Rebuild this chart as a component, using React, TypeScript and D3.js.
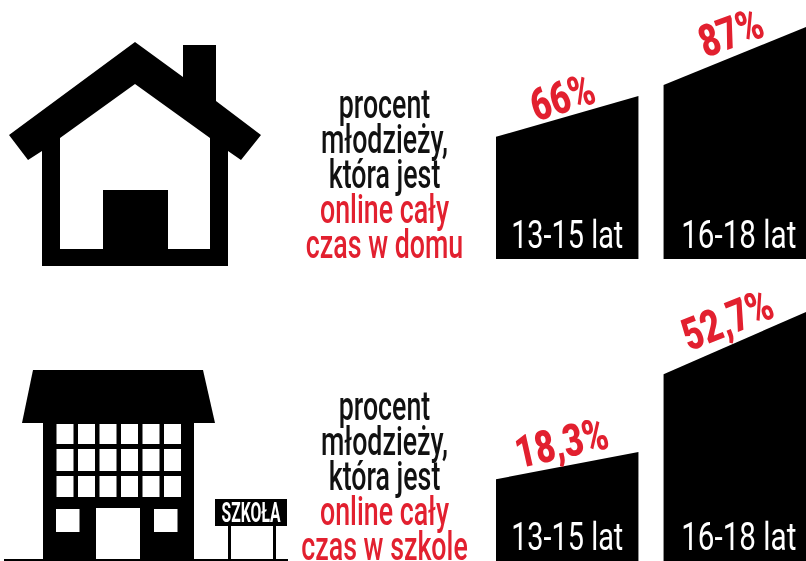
import React, { useEffect, useRef } from "react";
import * as d3 from "d3";

const ageGroups = ["13-15 lat", "16-18 lat"];
const homeValues = [66, 87];
const schoolValues = [18.3, 52.7];
const homeLabels = ["66%", "87%"];
const schoolLabels = ["18,3%", "52,7%"];
const homeText = ["procent", "młodzieży,", "która jest", "online cały", "czas w domu"];
const schoolText = ["procent", "młodzieży,", "która jest", "online cały", "czas w szkole"];
const RED = "#e2202f";
const FONT = "Roboto";

export default function App() {
  const ref = useRef<SVGSVGElement>(null);

  useEffect(() => {
    const svg = d3.select(ref.current);
    svg.selectAll("*").remove();

    const x = d3.scaleBand().domain(ageGroups).range([496, 806]).paddingInner(0.15);

    // condensed text: no condensed face is installed, so squeeze horizontally
    const label = (g: any, str: string, px: number, py: number, size: number, fill: string, sx = 0.66, weight = 400, rot = 0) =>
      g.append("text")
        .attr("transform", `translate(${px},${py}) rotate(${rot}) scale(${sx},1)`)
        .attr("text-anchor", "middle")
        .attr("font-family", FONT)
        .attr("font-size", size)
        .attr("font-weight", weight)
        .attr("fill", fill)
        .text(str);

    const panel = (values: number[], labels: string[], lines: string[], base: number, yRange: number[], lineY: number, labelPos: number[][], rots: number[]) => {
      const y = d3.scaleLinear().domain(values).range(yRange);
      const g = svg.append("g");
      const area = d3.line();
      values.forEach((v, i) => {
        const x0 = x(ageGroups[i])!;
        const x1 = x0 + x.bandwidth();
        const top = y(v);
        const left = base - (base - top) * 0.75;
        g.append("path")
          .attr("d", area([[x0, base], [x0, left], [x1, top], [x1, base]]) + "Z")
          .attr("fill", "#000");
        label(g, ageGroups[i], (x0 + x1) / 2 + i * 4, base - 11, 39, "#fff", 0.74 + i * 0.02, 400);
        label(g, labels[i], labelPos[i][0], labelPos[i][1], 45, RED, 0.76, 900, rots[i]);
      });
      lines.forEach((t, i) => {
        label(g, t, 384.5, lineY + i * 34.9, 40, i < 3 ? "#111" : RED, 0.67, 500);
      });
    };

    panel(homeValues, homeLabels, homeText, 259, [96, 27], 118, [[567, 112], [736, 47]], [-17.5, -20]);
    panel(schoolValues, schoolLabels, schoolText, 561, [452, 312], 420, [[565, 458], [733, 334]], [-12.6, -21.7]);

    // house
    svg.append("path")
      .attr("d", "M9,135 L135,42 L183,77 L183,45 L216,45 L216,101 L261,135 L241,160 L228,151 L228,266 L42,266 L42,151 L28,160 Z M135,84 L60,138 L60,249 L103,249 L103,190 L168,190 L168,249 L210,249 L210,138 Z")
      .attr("fill", "#000")
      .attr("fill-rule", "evenodd");

    // school building
    const school = svg.append("g");
    school.append("path").attr("d", "M33,370 L203,370 L215,423 L22,423 Z").attr("fill", "#000");
    school.append("rect").attr("x", 43).attr("y", 423).attr("width", 151).attr("height", 137).attr("fill", "#000");
    const cols = d3.range(6).map((i) => 56.5 + i * 21.5);
    const rows = [[424, 20], [449, 22], [476, 21]];
    rows.forEach(([ry, rh]) => cols.forEach((cx) =>
      school.append("rect").attr("x", cx).attr("y", ry).attr("width", 17).attr("height", rh).attr("fill", "#fff")));
    [[56, 509], [154, 509]].forEach(([wx, wy]) =>
      school.append("rect").attr("x", wx).attr("y", wy).attr("width", 23.5).attr("height", 23).attr("fill", "#fff"));
    school.append("rect").attr("x", 96).attr("y", 508).attr("width", 44).attr("height", 52).attr("fill", "#fff");
    school.append("rect").attr("x", 4).attr("y", 559).attr("width", 284).attr("height", 2).attr("fill", "#000");
    school.append("rect").attr("x", 215).attr("y", 499).attr("width", 72).attr("height", 27).attr("fill", "#000");
    school.append("rect").attr("x", 228).attr("y", 526).attr("width", 3).attr("height", 33).attr("fill", "#000");
    school.append("rect").attr("x", 273).attr("y", 526).attr("width", 3).attr("height", 33).attr("fill", "#000");
    label(school, "SZKOŁA", 251, 522, 27, "#fff", 0.58, 700);
  }, []);

  return (
    <svg
      ref={ref}
      width={806}
      height={561}
      style={{ position: "absolute", left: 0, top: 0, background: "#fff", filter: "blur(0.5px)" }}
    />
  );
}
